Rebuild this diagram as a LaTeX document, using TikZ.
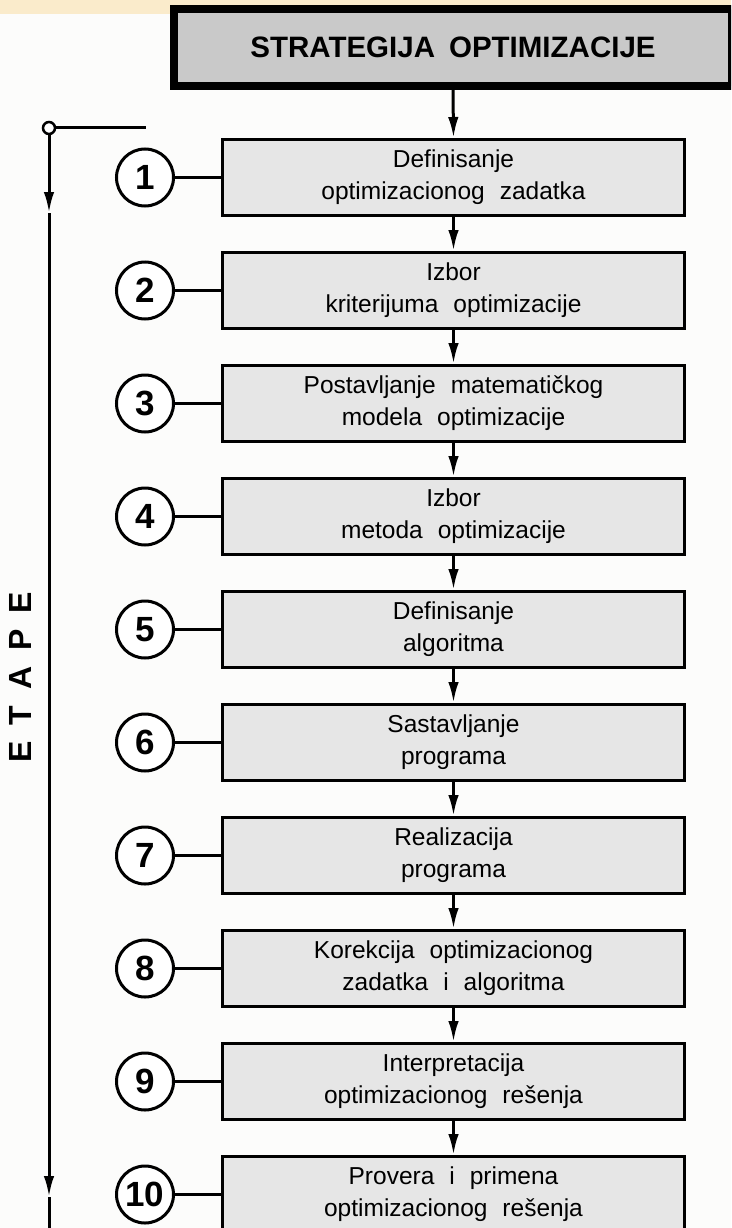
\documentclass[tikz,border=0pt]{standalone}
\usepackage{fontspec}
\setmainfont{Liberation Sans}
\usetikzlibrary{arrows.meta}
\definecolor{bandc}{HTML}{FAEBCB}
\definecolor{bgc}{HTML}{FCFCFB}
\definecolor{titlefill}{HTML}{C9C9C9}
\definecolor{boxfill}{HTML}{E6E6E6}
\newcommand\myboxfont{\fontsize{24.5}{32}\selectfont\spaceskip 15pt\relax}
\newcommand\mytitlefont{\fontsize{29.5}{30}\selectfont\bfseries\spaceskip 14pt\relax}
\newcommand\myetapefont{\fontsize{32}{32}\selectfont\bfseries\spaceskip 16pt\relax}
\tikzset{
  stepbox/.style={draw=black, line width=3pt, fill=boxfill, minimum width=462pt, minimum height=76pt,
    inner sep=0pt, align=center, font=\myboxfont},
  numcirc/.style={draw=black, line width=3pt, fill=white, circle, minimum size=57pt, inner sep=0pt,
    font=\fontsize{35}{35}\selectfont\bfseries},
  link/.style={line width=3pt},
  arr/.style={line width=3pt, -{Latex[length=21pt,width=10.5pt]}},
}
\begin{document}
\begin{tikzpicture}[x=1pt,y=-1pt]
\useasboundingbox (0,0) rectangle (731,1228);
\clip (0,0) rectangle (731,1228);
\fill[bgc] (0,0) rectangle (731,1228);
\fill[bandc] (0,0) rectangle (731,14);
% title
\node[draw=black, line width=8pt, fill=titlefill, minimum width=558pt, minimum height=77pt, inner sep=0pt,
  font=\mytitlefont] (title) at (453,47.5) {STRATEGIJA OPTIMIZACIJE};
% boxes
\node[stepbox] (b1) at (453.5,177.5) {Definisanje\\optimizacionog zadatka};
\node[stepbox] (b2) at (453.5,290.5) {Izbor\\kriterijuma optimizacije};
\node[stepbox] (b3) at (453.5,403.5) {Postavljanje matematičkog\\modela optimizacije};
\node[stepbox] (b4) at (453.5,516.5) {Izbor\\metoda optimizacije};
\node[stepbox] (b5) at (453.5,629.5) {Definisanje\\algoritma};
\node[stepbox] (b6) at (453.5,742.5) {Sastavljanje\\programa};
\node[stepbox] (b7) at (453.5,855.5) {Realizacija\\programa};
\node[stepbox] (b8) at (453.5,968.5) {Korekcija optimizacionog\\zadatka i algoritma};
\node[stepbox] (b9) at (453.5,1081.5) {Interpretacija\\optimizacionog rešenja};
\node[stepbox] (b10) at (453.5,1194.5) {Provera i primena\\optimizacionog rešenja};
% circles
\foreach \i in {1,...,10}{
  \node[numcirc] (c\i) at (145,{177.5+(\i-1)*113}) {\i};
  \draw[link] (c\i.east) -- (b\i.west);
}
% arrows
\draw[arr] (title.south) -- (b1.north);
\foreach \i/\j in {1/2,2/3,3/4,4/5,5/6,6/7,7/8,8/9,9/10}{
  \draw[arr] (b\i.south) -- (b\j.north);
}
% left timeline
\node[draw=black, line width=2.5pt, fill=white, circle, minimum size=12pt, inner sep=0pt] (o) at (49,128) {};
\coordinate (oe) at (146,128);
\coordinate (a1) at (49,213);
\coordinate (a2) at (49,1197);
\coordinate (bot) at (49,1240);
\draw[link] (o.east) -- (oe);
\draw[arr] (o.south) -- (a1);
\draw[arr] (a1) -- (a2);
\draw[link] (a2) -- (bot);
\node[rotate=90, font=\myetapefont] (etape) at (20,677) {E T A P E};
\end{tikzpicture}
\end{document}
